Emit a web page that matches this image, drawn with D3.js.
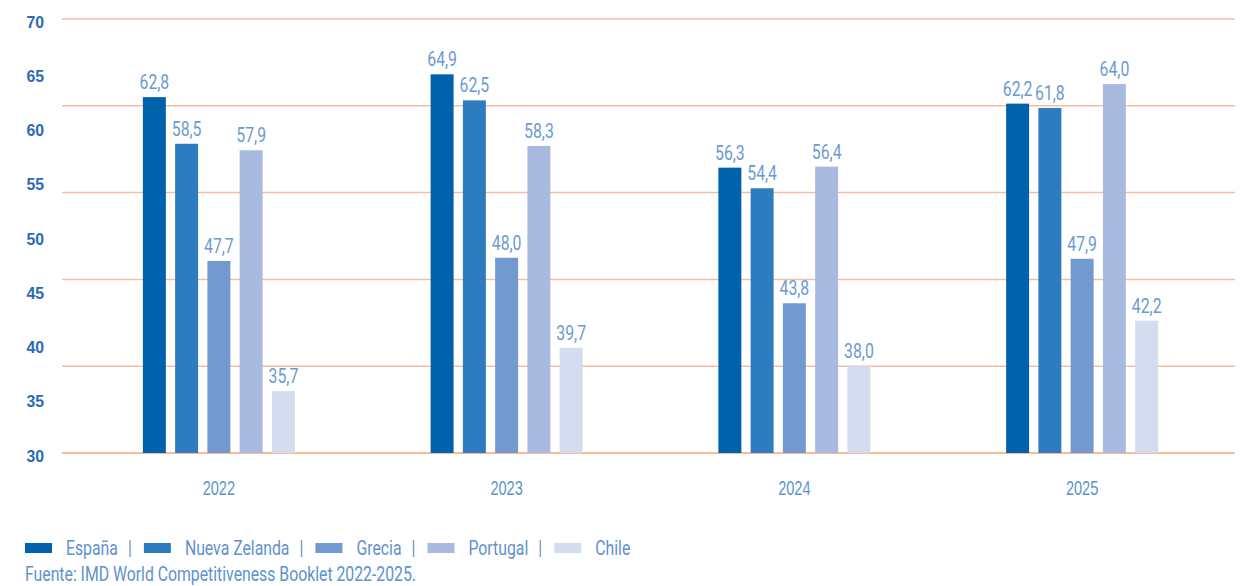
<!DOCTYPE html>
<html>
<head>
<meta charset="utf-8">
<script src="https://cdn.jsdelivr.net/npm/d3@7"></script>
<style>
  html, body { margin: 0; padding: 0; background: #fff; }
  svg { display: block; font-family: Roboto, "DejaVu Sans Condensed", sans-serif; }
</style>
</head>
<body>
<svg id="chart" width="1243" height="586"></svg>
<script>
// Índice por país y año
const years = ["2022", "2023", "2024", "2025"];
const countries = ["España", "Nueva Zelanda", "Grecia", "Portugal", "Chile"];
const espana = [62.8, 64.9, 56.3, 62.2];
const nuevaZelanda = [58.5, 62.5, 54.4, 61.8];
const grecia = [47.7, 48.0, 43.8, 47.9];
const portugal = [57.9, 58.3, 56.4, 64.0];
const chile = [35.7, 39.7, 38.0, 42.2];
const yTickValues = [30, 35, 40, 45, 50, 55, 60, 65, 70];
const gridValues = [30, 38, 46, 54, 62, 70];
const sourceText = "Fuente: IMD World Competitiveness Booklet 2022-2025.";

const seriesValues = [espana, nuevaZelanda, grecia, portugal, chile];
const colors = ["#0062ad", "#2e7cc0", "#729ad1", "#a8bae0", "#d4dcf0"];

const rows = years.map((yr, i) => ({
  year: yr,
  values: countries.map((c, k) => ({ country: c, value: seriesValues[k][i] }))
}));

const esLocale = d3.formatLocale({ decimal: ",", thousands: ".", grouping: [3], currency: ["", " €"] });
const fmt = esLocale.format(".1f");

// Tipografía estrecha: se comprime horizontalmente el texto
const NARROW = 0.81;
function narrowText(sel, x, y, k = NARROW) {
  sel.attr("x", 0).attr("y", 0)
    .attr("transform", `translate(${x},${y}) scale(${k},1)`);
}

const svg = d3.select("#chart");

const x0 = d3.scaleBand().domain(years).range([75, 1226]).padding(0);
const groupWidth = 152;
const x1 = d3.scaleBand().domain(countries).range([0, groupWidth]).paddingInner(0.288).paddingOuter(0);
const y = d3.scaleLinear().domain([30, 70]).range([453, 19]);
const color = d3.scaleOrdinal().domain(countries).range(colors);

// Líneas de guía
svg.append("g")
  .selectAll("line")
  .data(gridValues)
  .join("line")
  .attr("x1", 62).attr("x2", 1235)
  .attr("y1", d => y(d)).attr("y2", d => y(d))
  .attr("stroke", d => d === 30 ? "#f4a37a" : "#f8bca0")
  .attr("stroke-width", 1.5);

// Eje vertical (solo etiquetas)
const yAxis = svg.append("g")
  .attr("transform", "translate(44,0)")
  .call(d3.axisLeft(y).tickValues(yTickValues).tickSize(0).tickPadding(0));
yAxis.select(".domain").remove();
yAxis.selectAll("text")
  .attr("fill", "#2a6bb3")
  .attr("font-weight", "bold")
  .attr("font-size", 17)
  .attr("font-family", "inherit")
  .attr("dy", null)
  .each(function () { narrowText(d3.select(this), 0, 8, 0.93); });

// Eje horizontal (solo etiquetas)
const xAxis = svg.append("g")
  .attr("transform", "translate(0,495)")
  .call(d3.axisBottom(x0).tickSize(0).tickPadding(0));
xAxis.select(".domain").remove();
xAxis.selectAll("text")
  .attr("fill", "#5e92cc")
  .attr("font-size", 20)
  .attr("font-family", "inherit")
  .attr("dy", null)
  .each(function () { narrowText(d3.select(this), 0, 0, 0.73); });

// Barras
const groups = svg.append("g")
  .selectAll("g")
  .data(rows)
  .join("g")
  .attr("transform", d => `translate(${x0(d.year) + x0.bandwidth() / 2 - groupWidth / 2},0)`);

groups.selectAll("rect")
  .data(d => d.values)
  .join("rect")
  .attr("x", d => x1(d.country))
  .attr("width", x1.bandwidth())
  .attr("y", d => y(d.value))
  .attr("height", d => y(30) - y(d.value))
  .attr("fill", d => color(d.country));

groups.selectAll("text")
  .data(d => d.values)
  .join("text")
  .attr("text-anchor", "middle")
  .attr("fill", "#6a9ad0")
  .attr("font-size", 19.5)
  .text(d => fmt(d.value))
  .each(function (d) {
    narrowText(d3.select(this), x1(d.country) + x1.bandwidth() / 2, y(d.value) - 8);
  });

// Leyenda
const legend = svg.append("g").attr("transform", "translate(25,548)");
let lx = 0;
countries.forEach((c, i) => {
  legend.append("rect")
    .attr("x", lx).attr("y", -5)
    .attr("width", 27).attr("height", 10)
    .attr("fill", color(c));
  lx += 41;
  const t = legend.append("text")
    .attr("fill", "#5e92cc")
    .attr("font-size", 19.5)
    .text(c);
  narrowText(t, lx, 7);
  lx += t.node().getComputedTextLength() * NARROW;
  if (i < countries.length - 1) {
    const sep = legend.append("text")
      .attr("text-anchor", "middle")
      .attr("fill", "#5e92cc")
      .attr("font-size", 19.5)
      .text("|");
    narrowText(sep, lx + 12, 7);
    lx += 26;
  }
});

const src = svg.append("text")
  .attr("fill", "#5e92cc")
  .attr("font-size", 19.5)
  .text(sourceText);
narrowText(src, 25, 581);
</script>
</body>
</html>
